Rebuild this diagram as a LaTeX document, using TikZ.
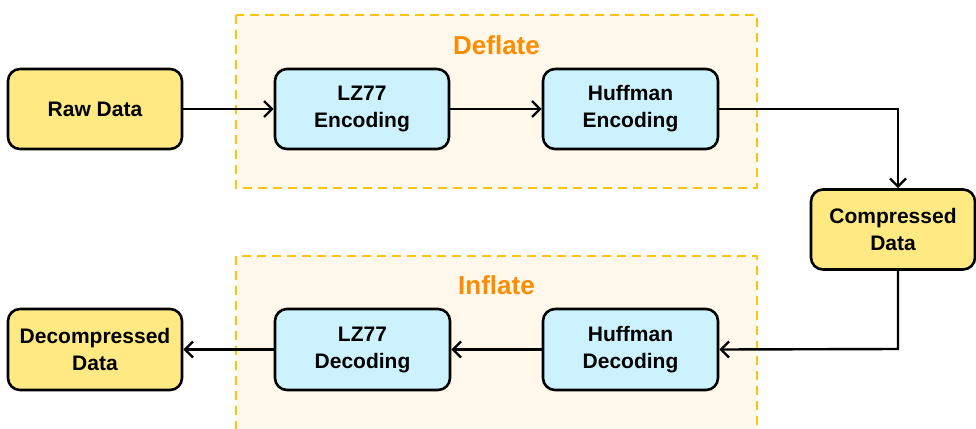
\documentclass[tikz,border=0pt]{standalone}
\usepackage{fontspec}
\setmainfont{Liberation Sans}
\usetikzlibrary{arrows.meta}
\definecolor{dataYellow}{HTML}{FEE983}
\definecolor{stageBlue}{HTML}{CCF2FE}
\definecolor{groupLine}{HTML}{FFC20E}
\definecolor{groupFill}{HTML}{FFF8EB}
\definecolor{groupTitle}{HTML}{FF8C00}
\tikzset{
  box/.style={draw=black, line width=2.6pt, rounded corners=12pt, align=center,
    font=\fontsize{21}{27}\selectfont\bfseries, inner sep=0pt},
  databox/.style={box, fill=dataYellow},
  stagebox/.style={box, fill=stageBlue},
  group/.style={draw=groupLine, fill=groupFill, line width=2.8pt, dash pattern=on 9pt off 6pt},
  grouptitle/.style={text=groupTitle, font=\fontsize{26}{30}\selectfont\bfseries},
  flow/.style={draw=black, line width=2.4pt, -{Straight Barb[length=8pt, width=16pt, line width=2.4pt]}}
}
\begin{document}
\begin{tikzpicture}[x=1pt, y=-1pt]
  \useasboundingbox (0,0) rectangle (976,428);
  \begin{scope}
    \clip (0,0) rectangle (976,428);
    % group frames
    \draw[group] (236,15) rectangle (757,188);
    \draw[group] (236,256) rectangle (757,440);
    \node[grouptitle] (deflate) at (496.5,45) {Deflate};
    \node[grouptitle] (inflate) at (496.5,285) {Inflate};
    % nodes
    \node[databox, minimum width=174pt, minimum height=80pt] (raw) at (95,109) {Raw Data};
    \node[stagebox, minimum width=174pt, minimum height=80pt] (lze) at (362,109) {LZ77\\Encoding};
    \node[stagebox, minimum width=175pt, minimum height=80pt] (hfe) at (630.5,109) {Huffman\\Encoding};
    \node[databox, minimum width=164pt, minimum height=80pt] (comp) at (893,229.5) {Compressed\\Data};
    \node[stagebox, minimum width=175pt, minimum height=81pt] (hfd) at (630.5,349.5) {Huffman\\Decoding};
    \node[stagebox, minimum width=175pt, minimum height=81pt] (lzd) at (362.5,349.5) {LZ77\\Decoding};
    \node[databox, minimum width=174pt, minimum height=81pt] (dec) at (95,349.5) {Decompressed\\Data};
    % connectors
    \draw[flow] (raw) -- (lze);
    \draw[flow] (lze) -- (hfe);
    \draw[flow] (hfe.east) -| (comp.north -| 898,0);
    \coordinate (turn) at (898,349);
    \draw[flow] (comp.south -| turn) -- (turn) -- (hfd.east);
    \draw[flow] (hfd) -- (lzd);
    \draw[flow] (lzd) -- (dec);
  \end{scope}
\end{tikzpicture}
\end{document}
